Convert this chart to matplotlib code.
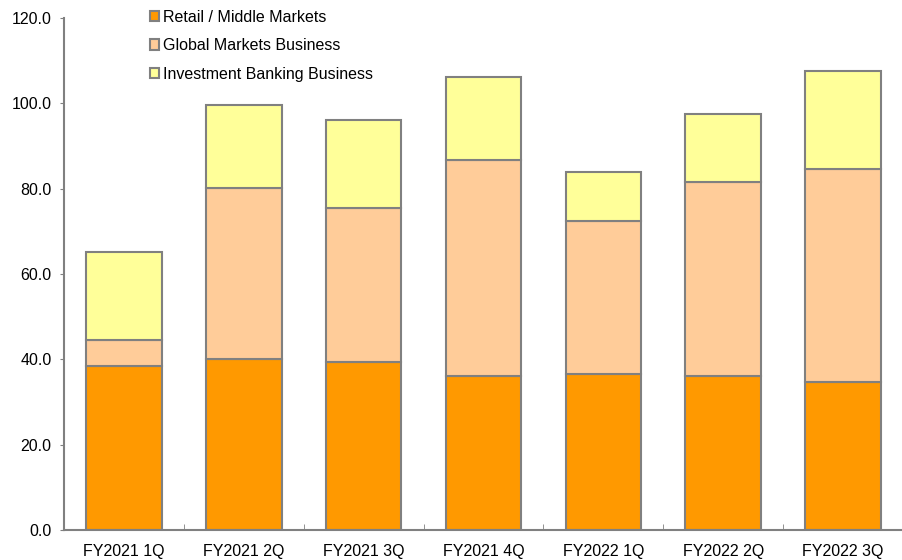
import matplotlib.pyplot as plt
import numpy as np

categories = ["FY2021 1Q", "FY2021 2Q", "FY2021 3Q", "FY2021 4Q",
              "FY2022 1Q", "FY2022 2Q", "FY2022 3Q"]
retail = [38.5, 40.1, 39.4, 36.1, 36.6, 36.0, 34.6]
global_mkts = [6.0, 40.0, 36.1, 50.6, 35.9, 45.5, 49.9]
ib = [20.6, 19.5, 20.6, 19.5, 11.5, 16.1, 23.1]

plt.rcParams['font.family'] = ['Liberation Sans', 'DejaVu Sans']

fig = plt.figure(figsize=(9.03, 5.6), dpi=100)
ax = fig.add_axes([0.0709, 0.0536, 0.9291, 0.9143])

x = np.arange(len(categories))
w = 0.63
edge = "#808080"
b1 = ax.bar(x, retail, w, color="#FF9900", edgecolor=edge, linewidth=1.5,
            label="Retail / Middle Markets")
b2 = ax.bar(x, global_mkts, w, bottom=retail, color="#FFCC99", edgecolor=edge,
            linewidth=1.5, label="Global Markets Business")
b3 = ax.bar(x, ib, w, bottom=np.array(retail) + np.array(global_mkts),
            color="#FFFF99", edgecolor=edge, linewidth=1.5,
            label="Investment Banking Business")

ax.set_xlim(-0.5, len(categories) - 0.5)
ax.set_ylim(0, 120)
ax.set_yticks(np.arange(0, 121, 20))
ax.set_yticklabels([f"{v:.1f}" for v in np.arange(0, 121, 20)], fontsize=11.5)
ax.set_xticks(x)
ax.set_xticklabels(categories, fontsize=11.5)
ax.tick_params(axis="x", length=0, pad=10)
ax.set_xticks(np.arange(0.5, len(categories) - 0.5), minor=True)
ax.tick_params(axis="x", which="minor", direction="in", length=4, color=edge)
ax.tick_params(axis="y", direction="out", length=3, color=edge, pad=6)

for s in ["top", "right"]:
    ax.spines[s].set_visible(False)
for s in ["left", "bottom"]:
    ax.spines[s].set_color(edge)
    ax.spines[s].set_linewidth(1.5)

leg = fig.legend(handles=[b1, b2, b3], loc="upper left",
                 bbox_to_anchor=(0.166, 0.983), frameon=False, fontsize=11.5,
                 handlelength=0.6, handleheight=0.6, handletextpad=0.2,
                 labelspacing=0.85, borderaxespad=0, borderpad=0)

fig.savefig("out.png", dpi=100)
